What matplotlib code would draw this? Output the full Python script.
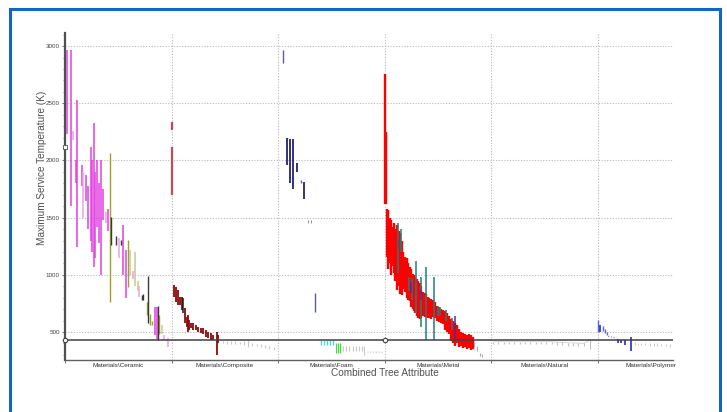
import matplotlib
matplotlib.use('Agg')
import matplotlib.pyplot as plt
from matplotlib.patches import Rectangle
from matplotlib.lines import Line2D
from matplotlib.ticker import MultipleLocator
import numpy as np

categories = ['Materials\\Ceramic', 'Materials\\Composite', 'Materials\\Foam',
              'Materials\\Metal', 'Materials\\Natural', 'Materials\\Polymer']

yticks = [500, 1000, 1500, 2000, 2500, 3000]
limit_temp = 427   # horizontal reference line (K)

# each record: (position inside the category 0..1, low K, high K)
ceramic_magenta = [(0.02, 2230, 2965), (0.06, 1600, 2965), (0.10, 1800, 2000), (0.117, 1245, 2528),
                   (0.157, 1780, 1960), (0.197, 1650, 1870), (0.216, 1400, 1780), (0.241, 1300, 2117),
                   (0.254, 1200, 2000), (0.268, 1070, 2327), (0.282, 1150, 1900), (0.296, 1420, 2000),
                   (0.319, 1280, 1800), (0.338, 1000, 2000), (0.357, 1480, 1750), (0.404, 1380, 1580),
                   (0.54, 1000, 1440), (0.57, 800, 1220), (0.848, 474, 721), (0.86, 440, 720)]
ceramic_pink = [(0.072, 2180, 2260), (0.17, 1500, 1900), (0.385, 1450, 1550), (0.507, 1150, 1320),
                (0.64, 960, 1030), (0.695, 810, 900), (0.93, 430, 470), (0.967, 370, 448)]
ceramic_olive = [(0.423, 762, 2067), (0.592, 893, 1305), (0.77, 650, 760), (0.80, 560, 660),
                 (0.82, 560, 600), (0.88, 480, 650)]
ceramic_lightolive = [(0.61, 1000, 1220), (0.657, 900, 1200), (0.685, 860, 950), (0.91, 480, 560)]
ceramic_dark = [(0.432, 1260, 1508), (0.48, 1260, 1340), (0.526, 1260, 1305), (0.72, 780, 820),
                (0.737, 780, 830), (0.78, 579, 990), (0.87, 430, 730)]

composite_rose = [(0.002, 2266, 2338), (0.008, 1698, 2120)]
composite_darkred = [(0.026, 809, 911), (0.042, 765, 896), (0.058, 736, 867), (0.077, 736, 809),
                     (0.096, 693, 809), (0.127, 576, 707), (0.143, 547, 634), (0.152, 500, 649),
                     (0.164, 518, 605), (0.183, 533, 576), (0.205, 518, 576), (0.228, 518, 561),
                     (0.252, 503, 547), (0.277, 494, 532), (0.299, 483, 532), (0.322, 460, 518),
                     (0.346, 445, 503), (0.371, 431, 489), (0.393, 431, 474), (0.424, 300, 503),
                     (0.44, 402, 474)]
composite_black = [(0.111, 666, 797)]
composite_gray = [(0.48, 400, 425), (0.52, 395, 420), (0.56, 398, 418), (0.60, 392, 420),
                  (0.64, 395, 415), (0.68, 390, 418), (0.72, 372, 430), (0.76, 380, 400),
                  (0.80, 375, 395), (0.84, 368, 392), (0.88, 360, 385), (0.92, 350, 378),
                  (0.96, 343, 370)]

foam_slate = [(0.047, 2850, 2965), (0.216, 1800, 1830), (0.347, 678, 841)]
foam_navy = [(0.082, 1960, 2196), (0.113, 1803, 2187), (0.144, 1750, 2187), (0.178, 1900, 1980),
             (0.244, 1660, 1814)]
foam_gray = [(0.279, 1455, 1480), (0.31, 1455, 1480)]
foam_cyan = [(0.404, 385, 430), (0.432, 385, 430), (0.46, 385, 430), (0.488, 385, 430), (0.516, 390, 428)]
foam_green = [(0.545, 320, 400), (0.56, 320, 400), (0.58, 320, 400)]
foam_light = [(0.61, 335, 380), (0.64, 335, 378), (0.67, 338, 380), (0.70, 335, 378),
              (0.73, 338, 375), (0.76, 335, 380), (0.79, 330, 378), (0.81, 300, 380)]
foam_tail_x = [0.84, 0.99]
foam_tail_y = [325, 322]

metal_red = [(0.0, 1620, 2760), (0.01, 1620, 2250),
             (0.019, 1160, 1580), (0.033, 1050, 1570), (0.047, 1100, 1500), (0.061, 1000, 1480),
             (0.075, 1080, 1420), (0.089, 1020, 1450), (0.103, 950, 1400), (0.117, 870, 1440),
             (0.136, 900, 1380), (0.150, 830, 1364), (0.164, 820, 1300), (0.178, 880, 1200),
             (0.192, 850, 1160), (0.207, 800, 1150), (0.221, 780, 1100), (0.235, 770, 1070),
             (0.249, 720, 1050), (0.263, 700, 1010), (0.277, 680, 1000), (0.291, 670, 980),
             (0.305, 640, 960), (0.319, 620, 950), (0.333, 610, 930), (0.347, 620, 900),
             (0.362, 640, 850), (0.376, 630, 840), (0.390, 635, 830), (0.404, 620, 810),
             (0.418, 620, 800), (0.437, 615, 790), (0.455, 630, 780), (0.474, 620, 760),
             (0.493, 600, 730), (0.512, 590, 720), (0.531, 580, 700), (0.549, 570, 690),
             (0.568, 520, 680), (0.587, 500, 670), (0.606, 480, 640), (0.624, 420, 610),
             (0.643, 400, 600), (0.662, 380, 580), (0.681, 400, 560), (0.700, 370, 530),
             (0.718, 380, 500), (0.737, 360, 490), (0.756, 370, 480), (0.775, 350, 470),
             (0.793, 360, 480), (0.812, 345, 470), (0.831, 350, 460)]
metal_teal = [(0.127, 1013, 1450), (0.155, 1200, 1400), (0.227, 860, 980), (0.254, 780, 970),
              (0.299, 667, 1118), (0.346, 547, 985), (0.392, 430, 1071), (0.465, 430, 985),
              (0.498, 640, 730), (0.521, 640, 720), (0.582, 600, 690), (0.634, 520, 620)]
metal_purple = [(0.249, 840, 940), (0.347, 780, 870), (0.662, 420, 640)]
metal_dark = [(0.133, 1240, 1300)]
metal_tail = [(0.845, 370, 420), (0.87, 330, 380), (0.90, 290, 320), (0.92, 280, 310)]

natural_gray = [(0.02, 395, 415), (0.07, 395, 415), (0.12, 395, 415), (0.17, 395, 415),
                (0.22, 395, 415), (0.27, 395, 415), (0.32, 395, 415), (0.37, 395, 415),
                (0.42, 395, 415), (0.47, 395, 415), (0.52, 395, 415), (0.57, 395, 415),
                (0.62, 390, 412), (0.67, 385, 410), (0.72, 380, 405), (0.77, 380, 405),
                (0.82, 378, 402), (0.87, 375, 400), (0.93, 350, 430)]

polymer_blue = [(0.023, 500, 560), (0.195, 400, 437), (0.225, 400, 430), (0.258, 390, 430),
                (0.312, 332, 458)]
polymer_lightblue = [(0.002, 502, 605), (0.047, 510, 550), (0.07, 490, 530), (0.09, 470, 500)]
polymer_dots_x = [0.10, 0.18]
polymer_dots_y = [462, 448]
polymer_gray = [(0.35, 385, 410), (0.38, 385, 408), (0.41, 382, 406), (0.45, 382, 405),
                (0.49, 380, 404), (0.53, 380, 402), (0.56, 378, 400), (0.60, 376, 398),
                (0.64, 375, 396), (0.68, 372, 392)]


def draw(ax, cat, series, color, lw=1.1):
    x = [cat + p for p, lo, hi in series]
    lo = [r[1] for r in series]
    hi = [r[2] for r in series]
    ax.vlines(x, lo, hi, colors=color, linewidth=lw, zorder=3)


W, H = 727, 412
fig = plt.figure(figsize=(W / 100, H / 100), dpi=100)
fig.patch.set_facecolor('white')
ax = fig.add_axes([65 / W, 1 - 360 / H, (673 - 65) / W, (360 - 33) / H])

ax.set_xlim(0, (673 - 65) / 106.5)
ax.set_ylim(255, 3115)

# grid
for y in yticks:
    ax.axhline(y, color='#b8b8b8', linewidth=0.8, linestyle=(0, (1, 1.5)), zorder=1)
for i in range(1, len(categories)):
    ax.axvline(i, color='#b8b8b8', linewidth=0.8, linestyle=(0, (1, 1.5)), zorder=1)

draw(ax, 0, ceramic_magenta, '#e23ee2', 1.1)
draw(ax, 0, ceramic_pink, '#e8a2e8', 1.1)
draw(ax, 0, ceramic_olive, '#a0a030', 1.0)
draw(ax, 0, ceramic_lightolive, '#c8c890', 1.1)
draw(ax, 0, ceramic_dark, '#383838', 1.0)

draw(ax, 1, composite_rose, '#c04a58', 1.6)
draw(ax, 1, composite_darkred, '#8a0a0a', 1.3)
draw(ax, 1, composite_black, '#1a1a1a', 1.1)
draw(ax, 1, composite_gray, '#c8c8c8', 0.8)

draw(ax, 2, foam_slate, '#5a5aa8', 1.0)
draw(ax, 2, foam_navy, '#222270', 1.3)
draw(ax, 2, foam_gray, '#909090', 0.7)
draw(ax, 2, foam_cyan, '#40d8f0', 0.9)
draw(ax, 2, foam_green, '#38e038', 0.8)
draw(ax, 2, foam_light, '#c8c8c8', 0.8)
ax.plot([2 + v for v in foam_tail_x], foam_tail_y, color='#c0c0c0', linewidth=0.8,
        linestyle=(0, (1, 1.5)), zorder=2)

draw(ax, 3, metal_red, '#ff0000', 1.7)
draw(ax, 3, metal_teal, '#1f7f80', 1.1)
draw(ax, 3, metal_purple, '#6a2090', 1.1)
draw(ax, 3, metal_dark, '#505050', 1.1)
draw(ax, 3, metal_tail, '#a8a8c0', 0.8)

ax.plot([4 + p for p, lo, hi in natural_gray], [hi for p, lo, hi in natural_gray],
        color='#d0d0d0', linewidth=0.6, zorder=2)
draw(ax, 4, natural_gray, '#c0c0c0', 0.8)

draw(ax, 5, polymer_lightblue, '#5a66e0', 1.0)
draw(ax, 5, polymer_blue, '#2828cc', 1.2)
ax.plot([5 + v for v in polymer_dots_x], polymer_dots_y, color='#7080e0', linewidth=0.8,
        linestyle=(0, (1, 1.5)), zorder=2)
draw(ax, 5, polymer_gray, '#c8c8c8', 0.7)

# limit line and its handles
ax.axhline(limit_temp, color='#404040', linewidth=1.1, zorder=4)
ax.plot([0, 3], [limit_temp, limit_temp], 'o', markersize=3.2, markerfacecolor='white',
        markeredgecolor='#404040', markeredgewidth=0.8, zorder=5, clip_on=False)
ax.plot([0], [2116], 's', markersize=2.5, markerfacecolor='white',
        markeredgecolor='#505050', markeredgewidth=0.6, zorder=5, clip_on=False)

# spines and ticks
for s in ['top', 'right']:
    ax.spines[s].set_visible(False)
ax.spines['left'].set_color('#505050')
ax.spines['left'].set_linewidth(1.6)
ax.spines['bottom'].set_color('#606060')
ax.spines['bottom'].set_linewidth(1.0)

ax.set_yticks(yticks)
ax.set_yticklabels([str(v) for v in yticks], fontsize=4.5, color='#404040', family='Liberation Sans')
ax.yaxis.set_minor_locator(MultipleLocator(100))
ax.tick_params(axis='y', which='major', length=2.5, width=0.6, color='#606060', pad=1.2)
ax.tick_params(axis='y', which='minor', length=1.5, width=0.5, color='#606060')

ax.set_xticks(range(0, len(categories)))
ax.set_xticklabels([])
ax.tick_params(axis='x', which='major', length=2.5, width=0.6, color='#606060')

for i, name in enumerate(categories):
    ax.text(i + 0.5, -0.0175, name, transform=ax.get_xaxis_transform(), ha='center', va='center',
            fontsize=4.6, color='#303030', family='Liberation Sans', clip_on=False)

fig.text(384.5 / W, 1 - 373 / H, 'Combined Tree Attribute', ha='center', va='center',
         fontsize=7.2, color='#505050', family='Liberation Sans')
fig.text(42 / W, 1 - 168 / H, 'Maximum Service Temperature (K)', ha='center', va='center',
         rotation=90, fontsize=7.2, color='#505050', family='Liberation Sans')

# the view cuts off the bottom of the axis title
fig.patches.append(Rectangle((11 / W, 0), (718 - 11) / W, (H - 377) / H, transform=fig.transFigure,
                             facecolor='white', edgecolor='none', zorder=5))

# blue frame
frame = '#1565c0'
fig.add_artist(Line2D([9.5 / W, 9.5 / W], [0, 1 - 9 / H], color=frame, linewidth=2.2, zorder=6))
fig.add_artist(Line2D([9.5 / W, 720 / W], [1 - 9 / H, 1 - 9 / H], color=frame, linewidth=2.2, zorder=6))
fig.add_artist(Line2D([720 / W, 720 / W], [0, 1 - 9 / H], color=frame, linewidth=2.2, zorder=6))

fig.savefig('out.png', dpi=100, facecolor='white')
